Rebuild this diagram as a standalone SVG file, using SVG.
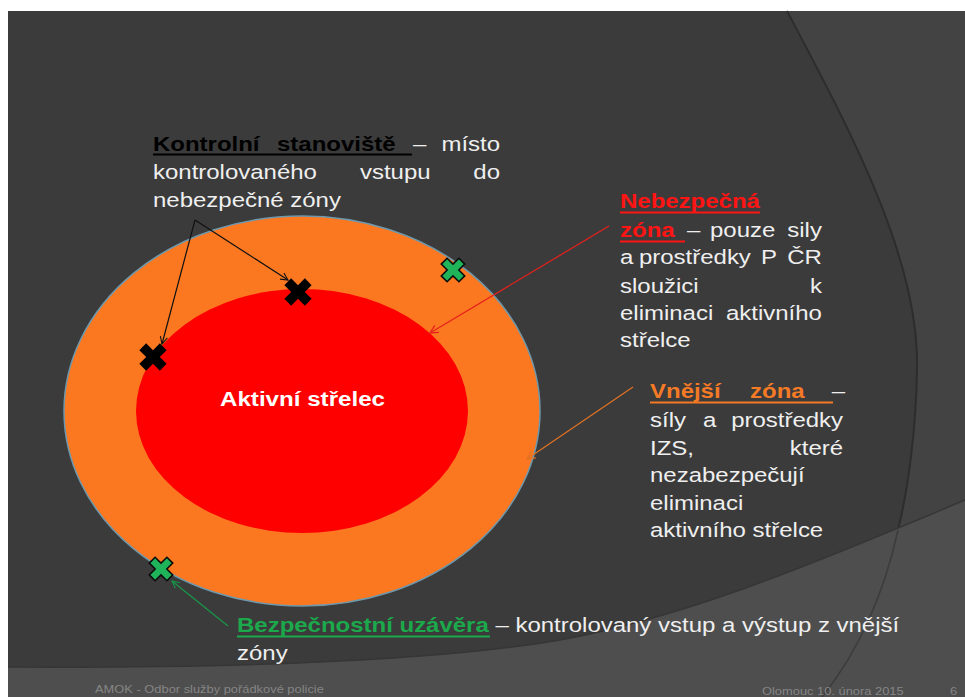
<svg xmlns="http://www.w3.org/2000/svg" xmlns:xlink="http://www.w3.org/1999/xlink" width="965" height="697" viewBox="0 0 965 697">
<style>
.t{font-family:"Liberation Sans",Arial,sans-serif;font-size:20.5px;fill:#efefef}
.b{font-weight:bold}
.k{fill:#000}
.r{fill:#ff1414}
.o{fill:#f47a26}
.g{fill:#1ba94c}
.e{text-anchor:end}
.ft{font-family:"Liberation Sans",Arial,sans-serif;font-size:11px;fill:#858585}
.cn{fill:none;stroke-width:1.2}
</style>
<defs>
<path id="cross" d="M-4.8,-14.5 H4.8 V-4.8 H14.5 V4.8 H4.8 V14.5 H-4.8 V4.8 H-14.5 V-4.8 H-4.8 Z" transform="rotate(45)"/>
<marker id="ak" viewBox="0 0 10 10" refX="9" refY="5" markerWidth="9" markerHeight="9" markerUnits="userSpaceOnUse" orient="auto"><path d="M1,1 L9,5 L1,9" fill="none" stroke="#111" stroke-width="1.2"/></marker>
<marker id="ar" viewBox="0 0 10 10" refX="9" refY="5" markerWidth="10" markerHeight="10" markerUnits="userSpaceOnUse" orient="auto"><path d="M1,1 L9,5 L1,9" fill="none" stroke="#e8201c" stroke-width="1.3"/></marker>
<marker id="ao" viewBox="0 0 10 10" refX="9" refY="5" markerWidth="10" markerHeight="10" markerUnits="userSpaceOnUse" orient="auto"><path d="M1,1 L9,5 L1,9" fill="none" stroke="#e27222" stroke-width="1.3"/></marker>
<marker id="ag" viewBox="0 0 10 10" refX="9" refY="5" markerWidth="9" markerHeight="9" markerUnits="userSpaceOnUse" orient="auto"><path d="M1,1 L9,5 L1,9" fill="none" stroke="#17984a" stroke-width="1.2"/></marker>
</defs>

<g id="background">
<rect width="965" height="697" fill="#ffffff"/>
<rect x="8" y="11" width="957" height="686" fill="#3b3b3b"/>
<path d="M787,11 C850,130 920,260 917,370 C916,430 908,490 898,530 L965,503 L965,11 Z" fill="#434343"/>
<path d="M787,11 C850,130 920,260 917,370 C916,430 908,490 898,530" fill="none" stroke="#2d2d2d" stroke-width="2"/>
<path d="M8,667 C200,668 420,664 560,640 C680,618 800,570 965,500 L965,697 L8,697 Z" fill="#4e4e4e"/>
<path d="M8,667 C200,668 420,664 560,640 C680,618 800,570 965,500" fill="none" stroke="#363636" stroke-width="1.5"/>
<path d="M898,530 C885,590 860,650 822,697" fill="none" stroke="#3c3c3c" stroke-width="1.5"/>
</g>

<g id="outer-zone">
<ellipse cx="302" cy="411" rx="238" ry="195" fill="#fb7821" stroke="#6d98ad" stroke-width="1.5"/>
</g>
<g id="inner-zone">
<ellipse cx="302" cy="411" rx="166" ry="122" fill="#ff0000"/>
<text class="t b" transform="translate(302.5,406) scale(1.15,1)" text-anchor="middle" style="font-size:21px;fill:#ffffff">Aktivní střelec</text>
</g>

<g id="checkpoint-top"><use xlink:href="#cross" x="298" y="292" fill="#000"/></g>
<g id="checkpoint-left"><use xlink:href="#cross" x="153" y="357" fill="#000"/></g>
<g id="cordon-top"><use xlink:href="#cross" transform="translate(453,270) scale(0.86)" fill="#1fb35a" stroke="#0b0b0b" stroke-width="1.8"/></g>
<g id="cordon-bottom"><use xlink:href="#cross" transform="translate(161,569) scale(0.86)" fill="#1fb35a" stroke="#0b0b0b" stroke-width="1.8"/></g>

<g id="connectors">
<path class="cn" d="M195,220 L288,280" stroke="#111" stroke-width="1" marker-end="url(#ak)"/>
<path class="cn" d="M195,220 L162,344" stroke="#111" stroke-width="1" marker-end="url(#ak)"/>
<path class="cn" d="M609,226 L430,333" stroke="#e8201c" stroke-width="1.5" marker-end="url(#ar)"/>
<path class="cn" d="M633,387 L527,459" stroke="#e27222" stroke-width="1.5" marker-end="url(#ao)"/>
<path class="cn" d="M228,626 L172,581" stroke="#17984a" stroke-width="1.1" marker-end="url(#ag)"/>
</g>

<g id="label-kontrolni">
<text class="t" transform="translate(153,151) scale(1.17,1)"><tspan class="b k" x="0">Kontrolní</tspan><tspan class="b k" x="106">stanoviště</tspan><tspan x="222.2">–</tspan><tspan class="e" x="296.6">místo</tspan></text>
<rect x="153" y="153.5" width="259" height="2" fill="#000"/>
<text class="t" transform="translate(153,179) scale(1.17,1)"><tspan x="0">kontrolovaného</tspan><tspan x="176.9">vstupu</tspan><tspan class="e" x="296.6">do</tspan></text>
<text class="t" transform="translate(153,207) scale(1.17,1)">nebezpečné zóny</text>
</g>

<g id="label-nebezpecna">
<text class="t b r" transform="translate(620,208) scale(1.17,1)">Nebezpečná</text>
<rect x="620" y="211.5" width="140" height="2" fill="#ff1414"/>
<text class="t" transform="translate(620,237) scale(1.17,1)"><tspan class="b r" x="0">zóna</tspan><tspan x="57.3">–</tspan><tspan x="76.9">pouze</tspan><tspan class="e" x="172.6">sily</tspan></text>
<rect x="620" y="240.5" width="65" height="2" fill="#ff1414"/>
<text class="t" transform="translate(620,264) scale(1.17,1)"><tspan x="0">a</tspan><tspan x="16.2">prostředky</tspan><tspan x="120.5">P</tspan><tspan class="e" x="172.6">ČR</tspan></text>
<text class="t" transform="translate(620,293) scale(1.17,1)"><tspan x="0">sloužici</tspan><tspan class="e" x="172.6">k</tspan></text>
<text class="t" transform="translate(620,320) scale(1.17,1)"><tspan x="0">eliminaci</tspan><tspan class="e" x="172.6">aktivního</tspan></text>
<text class="t" transform="translate(620,347) scale(1.17,1)">střelce</text>
</g>

<g id="label-vnejsi">
<text class="t" transform="translate(650,398) scale(1.17,1)"><tspan class="b o" x="0">Vnější</tspan><tspan class="b o" x="85.5">zóna</tspan><tspan class="e" x="166.7">–</tspan></text>
<rect x="650" y="401.5" width="183" height="2" fill="#f47a26"/>
<text class="t" transform="translate(650,427) scale(1.17,1)"><tspan x="0">síly</tspan><tspan x="45.3">a</tspan><tspan class="e" x="165">prostředky</tspan></text>
<text class="t" transform="translate(650,455) scale(1.17,1)"><tspan x="0">IZS,</tspan><tspan class="e" x="165">které</tspan></text>
<text class="t" transform="translate(650,482) scale(1.17,1)">nezabezpečují</text>
<text class="t" transform="translate(650,510) scale(1.17,1)">eliminaci</text>
<text class="t" transform="translate(650,537) scale(1.17,1)">aktivního střelce</text>
</g>

<g id="label-bezpecnostni">
<text class="t" transform="translate(237,632) scale(1.17,1)"><tspan class="b g">Bezpečnostní uzávěra</tspan> – kontrolovaný vstup a výstup z vnější</text>
<rect x="237" y="635.5" width="253" height="2" fill="#1ba94c"/>
<text class="t" transform="translate(237,660) scale(1.17,1)">zóny</text>
</g>

<g id="footer">
<text class="ft" transform="translate(95,693) scale(1.17,1)">AMOK - Odbor služby pořádkové  policie</text>
<text class="ft" transform="translate(762,695) scale(1.17,1)">Olomouc 10. února 2015</text>
<text class="ft" transform="translate(950,695) scale(1.17,1)">6</text>
</g>
</svg>
